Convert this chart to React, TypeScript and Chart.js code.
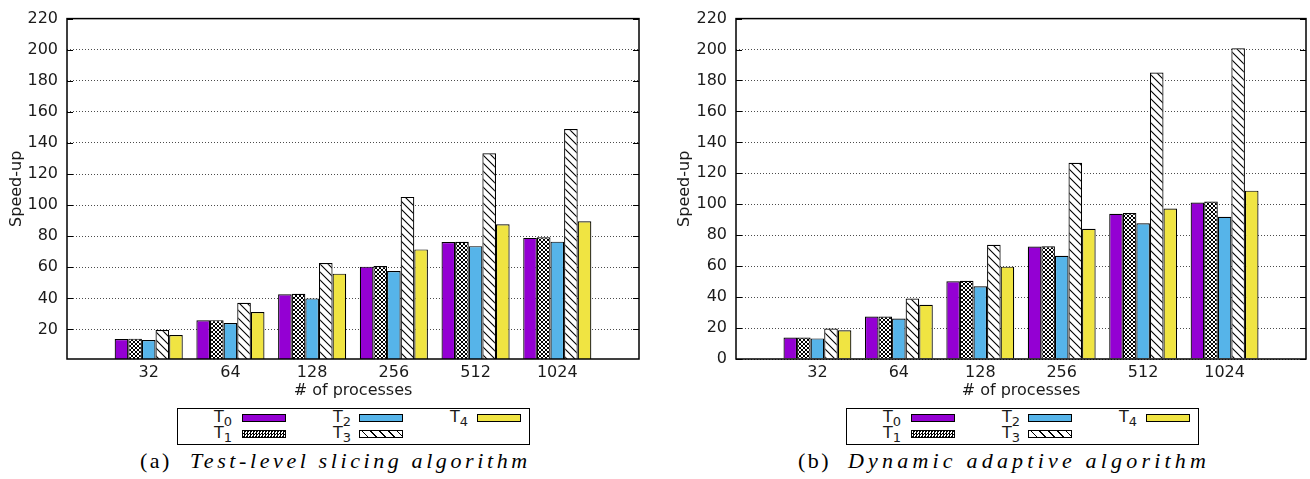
import React, { useEffect, useRef } from "react";
import { Chart, registerables } from "chart.js";

Chart.register(...registerables);

const categories = ["32", "64", "128", "256", "512", "1024"];
const seriesNames = ["T0", "T1", "T2", "T3", "T4"];

// (a) Test-level slicing algorithm
const a_T0 = [13.8, 25.9, 42.7, 60.4, 76.2, 78.9];
const a_T1 = [14.1, 26.0, 43.0, 60.8, 76.4, 79.3];
const a_T2 = [13.2, 24.2, 40.0, 57.6, 73.6, 76.5];
const a_T3 = [19.6, 37.2, 62.8, 105.3, 133.4, 149.0];
const a_T4 = [16.4, 31.2, 55.9, 71.5, 87.7, 89.6];

// (b) Dynamic adaptive algorithm
const b_T0 = [13.9, 27.4, 50.2, 72.7, 93.9, 101.1];
const b_T1 = [13.9, 27.4, 50.5, 72.9, 94.3, 101.8];
const b_T2 = [13.3, 26.1, 47.0, 66.7, 87.7, 91.9];
const b_T3 = [19.7, 39.1, 73.8, 126.8, 185.2, 200.8];
const b_T4 = [18.6, 35.1, 59.7, 84.2, 97.3, 108.8];

const a_yTicks = [20, 40, 60, 80, 100, 120, 140, 160, 180, 200, 220];
const b_yTicks = [0, 20, 40, 60, 80, 100, 120, 140, 160, 180, 200, 220];

const PURPLE = "#9400D3";
const BLUE = "#56B4E9";
const YELLOW = "#F0E442";
const FONT = "'DejaVu Sans', sans-serif";
const FS = 16;

function makeChecker(): CanvasPattern | string {
  const c = document.createElement("canvas");
  c.width = 4;
  c.height = 4;
  const g = c.getContext("2d");
  if (!g) return "#555";
  g.fillStyle = "#fff";
  g.fillRect(0, 0, 4, 4);
  g.fillStyle = "#000";
  const px = [
    [0, 0], [1, 1], [2, 2], [3, 3], [3, 0], [2, 1], [1, 2], [0, 3],
  ];
  px.forEach(([x, y]) => g.fillRect(x, y, 1, 1));
  return g.createPattern(c, "repeat") || "#555";
}

function makeHatch(): CanvasPattern | string {
  const s = 8;
  const c = document.createElement("canvas");
  c.width = s;
  c.height = s;
  const g = c.getContext("2d");
  if (!g) return "#fff";
  g.fillStyle = "#fff";
  g.fillRect(0, 0, s, s);
  g.strokeStyle = "#000";
  g.lineWidth = 1.1;
  g.beginPath();
  g.moveTo(-1, -1);
  g.lineTo(s + 1, s + 1);
  g.moveTo(-1, s - 1);
  g.lineTo(1, s + 1);
  g.moveTo(s - 1, -1);
  g.lineTo(s + 1, 1);
  g.stroke();
  return g.createPattern(c, "repeat") || "#fff";
}

const framePlugin = {
  id: "frame",
  afterDatasetsDraw(chart: any) {
    const { ctx, chartArea: a, scales } = chart;
    const y = scales.y;
    ctx.save();
    ctx.strokeStyle = "#000";
    ctx.lineWidth = 1;
    y.ticks.forEach((t: any) => {
      const py = Math.round(y.getPixelForValue(t.value)) + 0.5;
      ctx.beginPath();
      ctx.moveTo(a.left, py);
      ctx.lineTo(a.left + 6, py);
      ctx.moveTo(a.right, py);
      ctx.lineTo(a.right - 6, py);
      ctx.stroke();
    });
    ctx.lineWidth = 1.5;
    ctx.strokeRect(a.left, a.top, a.right - a.left, a.bottom - a.top);
    ctx.restore();
  },
};

type Props = {
  series: number[][];
  yMin: number;
  yTicks: number[];
  yAxisWidth: number;
  rightPad: number;
  width: number;
  height: number;
};

function BarChart({ series, yMin, yTicks, yAxisWidth, rightPad, width, height }: Props) {
  const ref = useRef<HTMLCanvasElement | null>(null);
  useEffect(() => {
    if (!ref.current) return;
    const fills = [PURPLE, makeChecker(), BLUE, makeHatch(), YELLOW];
    const labels = ["", ...categories, ""];
    const chart = new Chart(ref.current, {
      type: "bar",
      data: {
        labels,
        datasets: series.map((vals, i) => ({
          label: seriesNames[i],
          data: [null, ...vals, null] as any,
          backgroundColor: fills[i] as any,
          borderColor: "#000",
          borderWidth: 1.2,
          categoryPercentage: 5 / 6,
          barPercentage: 1,
        })),
      },
      options: {
        responsive: false,
        animation: false,
        devicePixelRatio: 1,
        layout: { padding: { top: 16, right: rightPad, left: 0, bottom: 0 } },
        plugins: { legend: { display: false }, tooltip: { enabled: false } },
        scales: {
          x: {
            type: "category",
            offset: false,
            grid: { display: false, drawTicks: false },
            border: { display: false },
            ticks: {
              color: "#1a1a1a",
              font: { family: FONT, size: FS },
              padding: 4,
              maxRotation: 0,
              autoSkip: false,
            },
            title: {
              display: true,
              text: "# of processes",
              color: "#1a1a1a",
              font: { family: FONT, size: FS },
              padding: { top: 0, bottom: 0 },
            },
            afterFit: (s: any) => {
              s.height = 41;
            },
          },
          y: {
            type: "linear",
            min: yMin,
            max: 220,
            grid: {
              drawTicks: false,
              color: "rgba(0,0,0,0.7)",
              lineWidth: 1,
            },
            border: { display: false, dash: [1, 2] },
            ticks: {
              color: "#1a1a1a",
              font: { family: FONT, size: FS },
              padding: 9,
            },
            afterBuildTicks: (s: any) => {
              s.ticks = yTicks.map((v) => ({ value: v }));
            },
            title: {
              display: true,
              text: "Speed-up",
              color: "#1a1a1a",
              font: { family: FONT, size: FS },
              padding: { top: 7, bottom: 0 },
            },
            afterFit: (s: any) => {
              s.width = yAxisWidth;
            },
          },
        },
      },
      plugins: [framePlugin],
    });
    return () => chart.destroy();
  }, []);
  return <canvas ref={ref} width={width} height={height} style={{ width, height, display: "block" }} />;
}

const legendSwatches = [
  { bg: PURPLE },
  { bg: "repeating-conic-gradient(#000 0 25%, #fff 0 50%) 0 0 / 3px 3px" },
  { bg: BLUE },
  { bg: "repeating-linear-gradient(45deg, #fff 0 5px, #000 5px 6.2px)" },
  { bg: YELLOW },
];

function Legend({ left }: { left: number }) {
  const cols = [
    { textRight: 55, sw: 65 },
    { textRight: 174, sw: 182 },
    { textRight: 291, sw: 300 },
  ];
  const rows = [{ textTop: 409, swTop: 414 }, { textTop: 425, swTop: 430 }];
  const items = seriesNames.map((name, i) => {
    const col = cols[Math.floor(i / 2)];
    const row = rows[i % 2];
    return (
      <React.Fragment key={name}>
        <div
          style={{
            position: "absolute",
            left: left + col.textRight - 40,
            width: 40,
            top: row.textTop,
            textAlign: "right",
            fontFamily: FONT,
            fontSize: FS,
            lineHeight: "15px",
            color: "#1a1a1a",
            whiteSpace: "nowrap",
          }}
        >
          T<span style={{ fontSize: 13, position: "relative", top: 4 }}>{name.slice(1)}</span>
        </div>
        <div
          style={{
            position: "absolute",
            left: left + col.sw,
            top: row.swTop,
            width: 44,
            height: 8,
            boxSizing: "border-box",
            border: "1px solid #000",
            background: legendSwatches[i].bg,
          }}
        />
      </React.Fragment>
    );
  });
  return (
    <>
      <div
        style={{
          position: "absolute",
          left,
          top: 408,
          width: 353,
          height: 37,
          boxSizing: "border-box",
          border: "1px solid #000",
        }}
      />
      {items}
    </>
  );
}

function Caption({ left, tag, text, spacing }: { left: number; tag: string; text: string; spacing: number }) {
  return (
    <div
      style={{
        position: "absolute",
        left,
        top: 448,
        fontFamily: "'Liberation Serif', serif",
        fontSize: 22,
        lineHeight: "26px",
        color: "#000",
        whiteSpace: "nowrap",
      }}
    >
      <span style={{ display: "inline-block", width: 50, letterSpacing: 2.5 }}>{tag}</span>
      <span style={{ fontStyle: "italic", letterSpacing: spacing }}>{text}</span>
    </div>
  );
}

export default function App() {
  return (
    <div
      style={{
        position: "fixed",
        left: 0,
        top: 0,
        width: 1310,
        height: 479,
        background: "#fff",
        overflow: "hidden",
      }}
    >
      <div style={{ position: "absolute", left: 0, top: 0 }}>
        <BarChart
          series={[a_T0, a_T1, a_T2, a_T3, a_T4]}
          yMin={1}
          yTicks={a_yTicks}
          yAxisWidth={67}
          rightPad={16}
          width={655}
          height={400}
        />
      </div>
      <div style={{ position: "absolute", left: 668, top: 0 }}>
        <BarChart
          series={[b_T0, b_T1, b_T2, b_T3, b_T4]}
          yMin={0}
          yTicks={b_yTicks}
          yAxisWidth={68}
          rightPad={2}
          width={642}
          height={400}
        />
      </div>
      <Legend left={177} />
      <Legend left={846} />
      <Caption left={140} tag="(a)" text="Test-level slicing algorithm" spacing={3.6} />
      <Caption left={798} tag="(b)" text="Dynamic adaptive algorithm" spacing={4.2} />
    </div>
  );
}
